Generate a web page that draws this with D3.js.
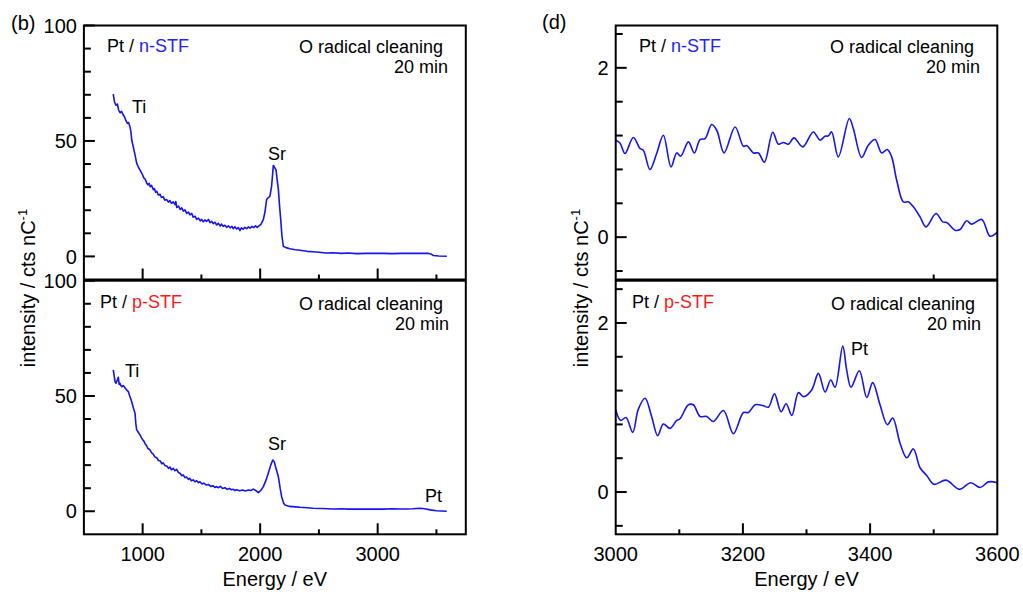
<!DOCTYPE html>
<html>
<head>
<meta charset="utf-8">
<script src="https://cdn.jsdelivr.net/npm/d3@7"></script>
<style>
  body { margin: 0; background: #fff; }
  svg { display: block; font-family: "Liberation Sans", Arial, sans-serif; }
</style>
</head>
<body>
<svg width="1023" height="594"></svg>
<script>
// wide scan spectra, [energy eV, intensity cts/nC]
var wideN = [[750,70.3],[760,67],[773,65.5],[785,66],[795,63.5],[807,62.2],[820,62.8],[835,61.2],[845,60.5],[856,59],[870,57.6],[880,58],[892,56.2],[900,54],[907,50.4],[920,47.5],[935,44],[949,40.4],[965,38.5],[978,37.4],[992,36.1],[1010,34],[1022,33.4],[1034,31.8],[1045,31.0],[1055,31.6],[1065,30.2],[1075,30.8],[1091,28.9],[1100,29.4],[1110,27.8],[1120,28.2],[1133,26.6],[1148,26.9],[1160,25.5],[1175,25.9],[1188,24.4],[1205,24.6],[1220,23.5],[1232,24.2],[1245,23.0],[1260,23.6],[1275,22.4],[1282,23.8],[1290,21.2],[1305,21.8],[1320,20.4],[1333,21.0],[1346,19.6],[1360,20.2],[1375,18.6],[1390,19.2],[1403,18.0],[1418,18.6],[1430,17.0],[1445,17.4],[1460,16.0],[1475,16.6],[1490,15.4],[1503,16.0],[1516,15.0],[1530,15.8],[1545,15.2],[1560,16.0],[1573,14.6],[1587,15.2],[1600,14.2],[1615,14.8],[1630,13.6],[1645,14.3],[1660,13.2],[1672,14.0],[1685,13.0],[1700,13.5],[1715,12.6],[1730,13.2],[1745,12.4],[1760,13.0],[1771,12.0],[1785,12.8],[1800,11.9],[1815,12.5],[1828,11.2],[1840,12.4],[1855,11.8],[1870,12.6],[1885,12.0],[1900,12.8],[1914,12.2],[1930,13.0],[1945,12.5],[1960,13.2],[1975,12.6],[1984,13.0],[2005,13.8],[2027,15.9],[2040,19],[2055,24.6],[2070,25.5],[2083,26],[2097,30.3],[2105,35],[2112,39.4],[2120,38.8],[2135,37.5],[2145,33],[2155,28.9],[2165,22],[2175,15.9],[2185,9],[2197,4.4],[2220,3.8],[2254,3.3],[2300,2.9],[2339,2.7],[2400,2.2],[2450,2.0],[2500,1.8],[2560,1.5],[2623,1.6],[2690,1.3],[2750,1.5],[2820,1.2],[2907,1.3],[2980,1.4],[3050,1.3],[3120,1.2],[3200,1.3],[3270,1.4],[3333,1.3],[3400,1.4],[3432,1.3],[3455,1.0],[3474,0.4],[3520,0.2],[3588,0.1]];

var wideP = [[750,61.3],[760,58],[766,56],[773,55.5],[785,57],[793,58.1],[800,55],[807,55.5],[815,54.5],[822,54],[835,54.5],[850,53.6],[865,52.5],[878,51.9],[890,50],[907,47.5],[920,45],[935,42.5],[942,38],[949,35.3],[960,34.5],[977,33.1],[1000,31],[1012,30.3],[1022,29.2],[1034,28.4],[1045,27.2],[1060,26.8],[1075,25.4],[1090,24.8],[1105,23.5],[1120,23.2],[1135,22.0],[1150,21.8],[1163,20.6],[1175,21.0],[1190,19.8],[1205,19.6],[1220,18.6],[1232,19.2],[1245,18.0],[1260,18.6],[1275,17.6],[1290,18.2],[1305,16.8],[1320,16.4],[1333,15.4],[1345,15.8],[1360,14.6],[1375,14.8],[1390,13.8],[1400,14.3],[1415,13.2],[1430,13.6],[1445,12.8],[1460,13.2],[1475,12.4],[1488,12.8],[1505,11.8],[1520,12.2],[1540,11.4],[1560,11.6],[1580,10.8],[1600,11.0],[1615,10.3],[1630,10.7],[1645,10.2],[1660,10.8],[1680,9.9],[1700,10.2],[1720,9.5],[1740,9.9],[1755,9.3],[1771,9.5],[1785,9.0],[1800,9.3],[1825,8.9],[1850,9.2],[1875,8.8],[1900,9.2],[1920,9.0],[1942,9.6],[1965,8.9],[1984,8.1],[2005,9.0],[2027,10.7],[2050,13.5],[2069,16.5],[2090,20],[2107,22.2],[2120,21.5],[2135,18.5],[2155,15],[2170,10],[2183,6.3],[2200,3.5],[2211,2.7],[2250,2.1],[2300,1.9],[2339,1.7],[2400,1.5],[2450,1.3],[2530,1.2],[2623,1.0],[2690,1.1],[2750,0.9],[2830,1.0],[2907,0.9],[2980,1.0],[3050,0.9],[3120,1.1],[3190,1.0],[3250,1.0],[3300,1.1],[3360,1.3],[3400,1.1],[3445,0.6],[3500,0.2],[3588,0.0]];

// narrow scan around the Pt peak
var narrowN = [[3000,1.145],[3006.7,1.113],[3014.6,0.988],[3027.7,1.177],[3038.2,1.047],[3043.4,1.027],[3053.9,0.799],[3064.4,0.988],[3074.9,1.204],[3087,0.83],[3095.9,0.995],[3102.2,0.956],[3114.3,1.125],[3123.7,0.995],[3132.6,1.153],[3140.5,1.165],[3151,1.33],[3158.9,1.263],[3170.4,0.995],[3187.7,1.302],[3200.8,1.074],[3206,1.082],[3216.5,0.995],[3224.4,0.995],[3233.8,0.885],[3246.9,1.24],[3255.8,1.098],[3263.7,1.118],[3271.5,1.098],[3280.4,1.173],[3294.1,1.066],[3310.7,1.243],[3321.2,1.145],[3329,1.192],[3334.3,1.196],[3339.5,1.243],[3350,0.948],[3367.3,1.401],[3373.6,1.283],[3386.7,0.941],[3397.2,1.086],[3407.7,1.153],[3418.2,0.995],[3427.1,1.035],[3433.9,0.948],[3441.8,0.673],[3452.3,0.417],[3460.1,0.417],[3468,0.358],[3478.5,0.24],[3487.9,0.122],[3503.7,0.28],[3514.1,0.181],[3520.4,0.173],[3533.5,0.083],[3541.4,0.09],[3551.9,0.193],[3559.7,0.154],[3575.5,0.209],[3588.6,0.012],[3600,0.06]];

var narrowP = [[3000,0.973],[3007.8,0.847],[3016.2,0.882],[3026.7,0.706],[3035.6,0.981],[3046.1,1.11],[3056.5,0.894],[3066,0.667],[3074.9,0.805],[3085.4,0.753],[3095.9,0.847],[3101.1,0.867],[3114.3,1.032],[3122.1,1.032],[3132.6,0.894],[3143.1,0.894],[3153.6,0.835],[3169.4,0.965],[3185.1,0.691],[3200.8,0.941],[3208.7,0.941],[3219.2,1.032],[3232.3,1.02],[3240.2,1.004],[3249.6,1.161],[3260.1,0.949],[3268,1.044],[3276.9,0.906],[3287.4,1.176],[3295.3,1.129],[3308.2,1.208],[3318.7,1.404],[3329.2,1.184],[3338.1,1.326],[3344.9,1.24],[3357,1.726],[3363.2,1.443],[3370,1.24],[3383.1,1.435],[3394.7,1.118],[3404.1,1.294],[3415.6,1.032],[3427.1,0.796],[3435.5,0.875],[3447,0.581],[3457.5,0.405],[3468,0.51],[3478.5,0.287],[3489,0.196],[3500.5,0.091],[3519.4,0.141],[3540.4,0.032],[3558.2,0.11],[3572.9,0.053],[3586,0.12],[3600,0.11]];

// tick values
var wideXMajor = [1000, 2000, 3000];
var wideXMinor = [1500, 2500, 3500];
var wideYTicks = [0, 10, 20, 30, 40, 50, 60, 70, 80, 90, 100];
var wideYLabels = [0, 50, 100];
var narrowXMajor = [3200, 3400];
var narrowXMinor = [3100, 3300, 3500];
var narrowXLabels = [3000, 3200, 3400, 3600];
var narrowYTicks = [-0.4, 0, 0.4, 0.8, 1.2, 1.6, 2.0, 2.4];
var narrowYLabels = [0, 2];

// peak labels [text, energy, intensity]
var peaksWideN = [["Ti", 909, 62], ["Sr", 2143, 41.8]];
var peaksWideP = [["Ti", 850, 58.2], ["Sr", 2143, 26.6], ["Pt", 3475, 4.0]];
var peaksNarrowP = [["Pt", 3370, 1.62]];

var svg = d3.select("svg");

//scales: left column (b) and right column (d), each with two stacked panels
var xWide = d3.scaleLinear().domain([500, 3750]).range([83.9, 465.8]);
var xNarrow = d3.scaleLinear().domain([3000, 3600]).range([615.7, 997.3]);
var yWideTop = d3.scaleLinear().domain([-10, 100]).range([279.5, 25.5]);
var yWideBot = d3.scaleLinear().domain([-10, 100]).range([534.3, 280.7]);
var yNarrowTop = d3.scaleLinear().domain([-0.5, 2.5]).range([279.5, 25.5]);
var yNarrowBot = d3.scaleLinear().domain([-0.5, 2.5]).range([534.3, 280.7]);

var panels = [
    { x: xWide, y: yWideTop, data: wideN, sample: "n-STF", col: "#2323ff", curve: d3.curveLinear,
      yTicks: wideYTicks, yLabels: wideYLabels, xMajor: wideXMajor, xMinor: wideXMinor, xLabels: [],
      peaks: peaksWideN, txt: [107, 52, 443, 53, 448, 73] },
    { x: xWide, y: yWideBot, data: wideP, sample: "p-STF", col: "#ff1a1a", curve: d3.curveLinear,
      yTicks: wideYTicks, yLabels: wideYLabels, xMajor: wideXMajor, xMinor: wideXMinor, xLabels: wideXMajor,
      peaks: peaksWideP, txt: [100, 308, 443, 310, 449, 330] },
    { x: xNarrow, y: yNarrowTop, data: narrowN, sample: "n-STF", col: "#2323ff", curve: d3.curveCatmullRom.alpha(0.5),
      yTicks: narrowYTicks, yLabels: narrowYLabels, xMajor: [], xMinor: [3500], xLabels: [],
      peaks: [], txt: [639, 52, 974, 53, 980, 73] },
    { x: xNarrow, y: yNarrowBot, data: narrowP, sample: "p-STF", col: "#ff1a1a", curve: d3.curveCatmullRom.alpha(0.5),
      yTicks: narrowYTicks, yLabels: narrowYLabels, xMajor: narrowXMajor, xMinor: narrowXMinor, xLabels: narrowXLabels,
      peaks: peaksNarrowP, txt: [632, 308, 975, 310, 981, 330] }
];

panels.forEach(function (p) {
    var g = svg.append("g");
    var x0 = p.x.range()[0], x1 = p.x.range()[1];
    var y0 = p.y.range()[1], y1 = p.y.range()[0];

    // y ticks, inward
    g.selectAll(".yt").data(p.yTicks).enter().append("line")
        .attr("x1", x0).attr("x2", function (d) { return x0 + (p.yLabels.indexOf(d) >= 0 ? 11 : 7); })
        .attr("y1", d => p.y(d)).attr("y2", d => p.y(d))
        .attr("stroke", "#000").attr("stroke-width", 2);

    g.selectAll(".yl").data(p.yLabels).enter().append("text")
        .attr("x", x0 - 7).attr("y", d => p.y(d))
        .attr("dy", "0.36em")
        .attr("text-anchor", "end")
        .style("font-size", "20px")
        .text(d => d);

    // x ticks, inward from the bottom edge
    g.selectAll(".xM").data(p.xMajor).enter().append("line")
        .attr("x1", d => p.x(d)).attr("x2", d => p.x(d))
        .attr("y1", y1).attr("y2", y1 - 11)
        .attr("stroke", "#000").attr("stroke-width", 2);
    g.selectAll(".xm").data(p.xMinor).enter().append("line")
        .attr("x1", d => p.x(d)).attr("x2", d => p.x(d))
        .attr("y1", y1).attr("y2", y1 - 5)
        .attr("stroke", "#000").attr("stroke-width", 2);

    g.selectAll(".xl").data(p.xLabels).enter().append("text")
        .attr("x", d => p.x(d)).attr("y", 561)
        .attr("text-anchor", "middle")
        .style("font-size", "20px")
        .text(d => d);

    // spectrum
    var line = d3.line()
        .x(d => p.x(d[0]))
        .y(d => p.y(d[1]))
        .curve(p.curve);
    g.append("path")
        .datum(p.data)
        .attr("d", line)
        .attr("fill", "none")
        .attr("stroke", "#1414f5")
        .attr("stroke-width", 1.6)
        .attr("stroke-linejoin", "round");

    // frame
    g.append("rect")
        .attr("x", x0).attr("y", y0)
        .attr("width", x1 - x0).attr("height", y1 - y0)
        .attr("fill", "none").attr("stroke", "#000").attr("stroke-width", 2);

    // sample + treatment text
    var t = g.append("text").attr("x", p.txt[0]).attr("y", p.txt[1]).style("font-size", "18px");
    t.append("tspan").text("Pt / ");
    t.append("tspan").attr("fill", p.col).text(p.sample);
    g.append("text").attr("x", p.txt[2]).attr("y", p.txt[3])
        .attr("text-anchor", "end").style("font-size", "18px").text("O radical cleaning");
    g.append("text").attr("x", p.txt[4]).attr("y", p.txt[5])
        .attr("text-anchor", "end").style("font-size", "18px").text("20 min");

    // element labels
    g.selectAll(".pk").data(p.peaks).enter().append("text")
        .attr("x", d => p.x(d[1])).attr("y", d => p.y(d[2]))
        .attr("text-anchor", d => d[0] == "Sr" || (d[0] == "Pt" && p.x === xWide) ? "middle" : "start")
        .style("font-size", "18px")
        .text(d => d[0]);
});

// axis titles and panel letters
function yTitle(xpos) {
    var t = svg.append("text")
        .attr("transform", "translate(" + xpos + ",288) rotate(-90)")
        .attr("text-anchor", "middle")
        .style("font-size", "20px");
    t.append("tspan").text("intensity / cts nC");
    t.append("tspan").attr("dy", "-0.6em").style("font-size", "13px").text("-1");
}
yTitle(35);
yTitle(588);

svg.append("text").attr("x", 274.8).attr("y", 586).attr("text-anchor", "middle")
    .style("font-size", "20px").text("Energy / eV");
svg.append("text").attr("x", 806.5).attr("y", 586).attr("text-anchor", "middle")
    .style("font-size", "20px").text("Energy / eV");

svg.append("text").attr("x", 11).attr("y", 30).style("font-size", "20px").text("(b)");
svg.append("text").attr("x", 542).attr("y", 29).style("font-size", "20px").text("(d)");
</script>
</body>
</html>
